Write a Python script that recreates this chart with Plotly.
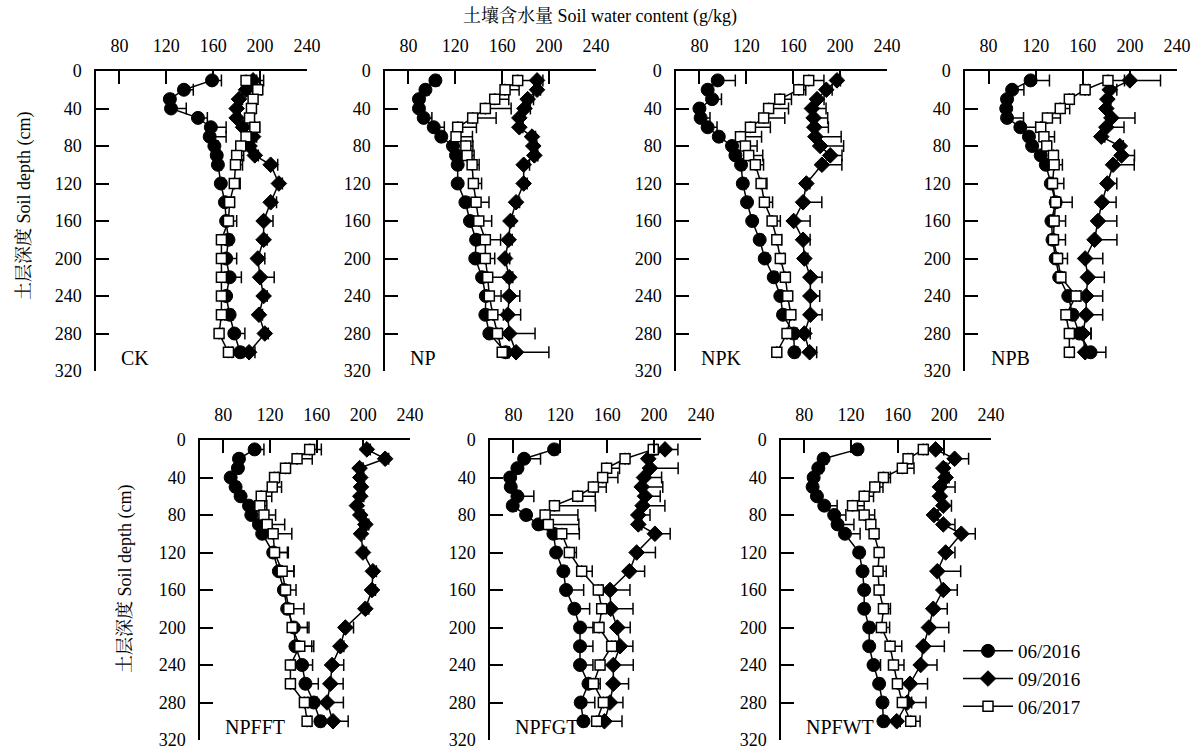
import plotly.graph_objects as go

DEPTH = [10, 20, 30, 40, 50, 60, 70, 80, 90, 100, 120, 140, 160, 180, 200, 220, 240, 260, 280, 300]
PANELS = ["CK", "NP", "NPK", "NPB", "NPFFT", "NPFGT", "NPFWT"]
SERIES = ["06/2016", "09/2016", "06/2017"]
XTICKS = [80, 120, 160, 200, 240]
YTICKS = [0, 40, 80, 120, 160, 200, 240, 280, 320]

# 06/2016
CK_0616 = [159, 135, 123, 124, 147, 158, 157, 161, 163, 164, 166.5, 170, 171, 173, 171, 174, 171, 174, 178, 183]
CK_0616_err = [8, 8, 3, 13, 8, 13, 14, 3, 3, 3, 3, 8, 9, 3, 9, 10, 3, 3, 9, 3]
CK_0916 = [194, 188, 182, 180, 180, 185.5, 194, 191, 195.5, 209, 216, 209, 203, 203, 198, 200, 203, 199, 204, 190.6]
CK_0916_err = [3, 3, 3, 3, 3, 3, 3, 3, 3, 6, 3, 5, 8, 3, 6, 12, 3, 3, 3, 5]
CK_0617 = [188, 198, 194, 192.6, 191, 195.5, 188, 183.5, 180, 179, 178, 174, 173, 167, 167, 167, 167, 167, 165, 173]
CK_0617_err = [15, 3, 3, 3, 3, 4, 4, 8, 6, 6, 5, 3, 3, 3, 3, 3, 3, 3, 3, 3]

NP_0616 = [103, 94.5, 89, 89, 93, 101.6, 108, 118, 120.6, 122, 122, 128.6, 132.5, 137.7, 137, 142.8, 146, 145.6, 149, 163]
NP_0616_err = [3, 3, 3, 3, 7, 9, 3, 3, 3, 3, 3, 3, 3, 3, 3, 3, 3, 3, 3, 3]
NP_0916 = [189.7, 189.7, 181.7, 179, 174.6, 174.6, 185.4, 186.5, 187.4, 178.3, 178.3, 171.8, 167, 165.5, 162.4, 166, 166, 164.7, 166, 171.8]
NP_0916_err = [5, 3, 5, 5, 3, 3, 3, 3, 3, 5, 3, 3, 3, 3, 4, 3, 9, 11, 22, 28]
NP_0617 = [173.2, 162.4, 153.6, 145.6, 134.8, 122, 120.6, 129, 130, 134.3, 135.4, 137.7, 140, 145.6, 145.6, 147.6, 149, 152, 156, 160]
NP_0617_err = [16, 12, 12, 22, 20, 16, 14, 6, 6, 6, 7, 11, 11, 13, 8, 16, 10, 9, 3, 6]

NPK_0616 = [95.6, 87, 90.8, 80, 81, 87, 96.5, 107.8, 110.7, 115.5, 117, 120.6, 125, 131.4, 135.7, 143.4, 149, 151.3, 160.4, 161]
NPK_0616_err = [15, 3, 8, 3, 8, 8, 3, 3, 3, 3, 3, 3, 3, 3, 3, 3, 3, 3, 3, 3]
NPK_0916 = [197.3, 188.2, 180.3, 176, 177.4, 178, 178.9, 183, 191.6, 184.5, 171.2, 168.4, 160.4, 168.4, 169.5, 174.6, 174.6, 174.6, 169.5, 174]
NPK_0916_err = [3, 5, 6, 12, 12, 12, 22, 20, 10, 17, 3, 16, 14, 6, 3, 10, 8, 10, 5, 6]
NPK_0617 = [173.2, 164.7, 148.5, 139, 134.8, 123.5, 115, 119.2, 122, 127.7, 132.6, 135.4, 142, 146, 149, 153.3, 155.3, 158, 154.7, 146]
NPK_0617_err = [13, 6, 10, 17, 18, 17, 18, 10, 12, 7, 5, 7, 7, 4, 3, 3, 3, 3, 3, 3]

NPB_0616 = [115.7, 100, 95.7, 95, 95.7, 107, 114.3, 117, 124.3, 128.6, 132.9, 137, 133.4, 134.3, 137, 140, 147.7, 151.4, 157, 166.6]
NPB_0616_err = [16, 10, 3, 3, 14, 13, 3, 3, 3, 3, 11, 14, 12, 11, 10, 3, 3, 3, 10, 13]
NPB_0916 = [200, 182.9, 180.9, 180, 184.3, 180, 175.7, 191.4, 192.9, 185.7, 180.9, 176.3, 172.9, 170, 162, 164.3, 162.9, 162.9, 160, 162]
NPB_0916_err = [26, 6, 3, 3, 20, 15, 3, 3, 11, 18, 8, 12, 16, 19, 15, 14, 14, 14, 7, 5]
NPB_0617 = [181.4, 162, 148.6, 140.9, 130, 124.3, 127, 129.4, 135.1, 135.7, 134.3, 137, 135.7, 135.1, 138.6, 141.4, 154.3, 145.7, 148.6, 148.6]
NPB_0617_err = [14, 3, 3, 8, 11, 3, 9, 3, 3, 7, 3, 3, 3, 3, 3, 3, 3, 3, 3, 3]

NPFFT_0616 = [106.8, 93.4, 92.5, 86.3, 90.5, 94.8, 102, 104, 110.5, 113.3, 122.7, 127.6, 131.9, 134.7, 140.4, 141.8, 147.5, 150.4, 157.5, 163.2]
NPFFT_0616_err = [8, 3, 3, 3, 3, 3, 7, 3, 8, 3, 13, 13, 3, 3, 13, 14, 9, 11, 3, 3]
NPFFT_0916 = [203, 218.7, 196.8, 197.4, 198, 197.4, 194.5, 197.4, 201.7, 198, 199.7, 208.2, 207.4, 201.7, 184.6, 180.3, 173.2, 171.7, 168.9, 174]
NPFFT_0916_err = [3, 3, 3, 3, 3, 3, 3, 3, 3, 3, 3, 3, 3, 3, 7, 3, 10, 11, 14, 13]
NPFFT_0617 = [154, 143.2, 133.3, 123.9, 121.9, 112.5, 111.3, 114.8, 117.6, 122.7, 123.9, 130.4, 133.3, 136.1, 139, 145.5, 137.5, 137.5, 149.5, 151.8]
NPFFT_0617_err = [10, 13, 3, 3, 8, 9, 6, 10, 15, 16, 11, 10, 9, 13, 13, 12, 3, 3, 3, 3]

NPFGT_0616 = [114.7, 89.1, 83.4, 77.2, 77.7, 83.4, 79.4, 90.8, 101.3, 114.1, 116.4, 122.6, 124.9, 132, 136.8, 136.8, 136.8, 144, 137.4, 139.7]
NPFGT_0616_err = [3, 14, 3, 3, 3, 14, 3, 3, 3, 3, 3, 3, 15, 13, 11, 11, 11, 10, 12, 3]
NPFGT_0916 = [209.3, 195, 196.5, 191.4, 189.4, 192.2, 190.2, 186.5, 186.5, 200.7, 185.1, 178.9, 162.4, 163, 168.6, 170.9, 165.2, 165.2, 162.4, 157.6]
NPFGT_0916_err = [11, 3, 24, 15, 18, 13, 19, 10, 3, 13, 16, 13, 17, 19, 11, 11, 17, 13, 11, 15]
NPFGT_0617 = [199.3, 175.2, 159.5, 156.1, 148.2, 134.8, 115, 107, 109.8, 121.2, 127.7, 138.2, 152.4, 155.3, 153, 163.8, 153.9, 148.2, 156.7, 151]
NPFGT_0617_err = [3, 3, 11, 13, 11, 15, 35, 28, 26, 15, 6, 9, 3, 6, 3, 3, 3, 3, 3, 3]

NPFWT_0616 = [125.6, 96.5, 92, 88, 87.1, 90.8, 97.1, 105.6, 108.5, 114.8, 127, 129.9, 131.3, 131.3, 135.6, 135.6, 139.3, 144.1, 147, 147.8]
NPFWT_0616_err = [3, 3, 3, 3, 3, 3, 11, 10, 14, 13, 3, 3, 3, 3, 3, 3, 6, 3, 3, 3]
NPFWT_0916 = [192.5, 208.8, 199.1, 201.1, 196.2, 196.2, 199.1, 191.1, 199.1, 214.5, 201.1, 194, 199.1, 190.5, 186.8, 182, 179.7, 170.6, 168.3, 159.2]
NPFWT_0916_err = [7, 12, 3, 3, 13, 3, 7, 3, 10, 12, 8, 20, 12, 12, 17, 18, 14, 15, 16, 3]
NPFWT_0617 = [182, 168.9, 164, 147.8, 140.4, 131.3, 121.3, 131.3, 137, 139.8, 144.1, 143.2, 144.1, 147.8, 146.1, 153.5, 156.4, 159.8, 164, 171.2]
NPFWT_0617_err = [3, 3, 10, 6, 7, 8, 10, 9, 3, 3, 3, 7, 4, 6, 7, 10, 9, 3, 8, 8]

DATA = {
    "CK": [(CK_0616, CK_0616_err), (CK_0916, CK_0916_err), (CK_0617, CK_0617_err)],
    "NP": [(NP_0616, NP_0616_err), (NP_0916, NP_0916_err), (NP_0617, NP_0617_err)],
    "NPK": [(NPK_0616, NPK_0616_err), (NPK_0916, NPK_0916_err), (NPK_0617, NPK_0617_err)],
    "NPB": [(NPB_0616, NPB_0616_err), (NPB_0916, NPB_0916_err), (NPB_0617, NPB_0617_err)],
    "NPFFT": [(NPFFT_0616, NPFFT_0616_err), (NPFFT_0916, NPFFT_0916_err), (NPFFT_0617, NPFFT_0617_err)],
    "NPFGT": [(NPFGT_0616, NPFGT_0616_err), (NPFGT_0916, NPFGT_0916_err), (NPFGT_0617, NPFGT_0617_err)],
    "NPFWT": [(NPFWT_0616, NPFWT_0616_err), (NPFWT_0916, NPFWT_0916_err), (NPFWT_0617, NPFWT_0617_err)],
}

W, H = 1199, 753
FONT = "Liberation Serif, Times New Roman, Noto Serif CJK SC, Noto Sans CJK SC, serif"
# panel pixel boxes (left, right, top, bottom)
BOXES = [
    (96, 307, 71, 371), (385, 596, 71, 371), (676, 887, 71, 371), (965, 1177, 71, 371),
    (200, 410, 440, 740), (490, 701, 440, 740), (781, 991, 440, 740),
]

MARKERS = [
    dict(symbol="circle", size=13, color="black", line=dict(color="black", width=1)),
    dict(symbol="diamond", size=12, color="black", line=dict(color="black", width=1)),
    dict(symbol="square", size=10, color="white", line=dict(color="black", width=1.5)),
]

fig = go.Figure()
layout = dict(
    width=W, height=H, autosize=False,
    margin=dict(l=0, r=0, t=0, b=0, autoexpand=False),
    paper_bgcolor="white", plot_bgcolor="rgba(0,0,0,0)",
    font=dict(family=FONT, size=18, color="black"),
    showlegend=True,
    legend=dict(x=958 / W, y=1 - 632 / H, xanchor="left", yanchor="top",
                font=dict(size=19, family=FONT), itemwidth=50, tracegroupgap=0,
                bgcolor="rgba(0,0,0,0)"),
)
annotations = []
for i, name in enumerate(PANELS):
    k = "" if i == 0 else str(i + 1)
    l, r, t, b = BOXES[i]
    layout["xaxis" + k] = dict(
        domain=[l / W, r / W], range=[60, 240], side="top", anchor="y" + k,
        tickvals=XTICKS, ticks="inside", ticklen=13, tickwidth=1.5, tickcolor="black",
        showline=True, linewidth=1.5, linecolor="black", showgrid=False, zeroline=False,
        tickfont=dict(size=18, family=FONT), ticklabelstandoff=10, automargin=False,
    )
    layout["yaxis" + k] = dict(
        domain=[1 - b / H, 1 - t / H], range=[320, 0], anchor="x" + k,
        tickvals=YTICKS, ticks="inside", ticklen=13, tickwidth=1.5, tickcolor="black",
        showline=True, linewidth=1.5, linecolor="black", showgrid=False, zeroline=False,
        tickfont=dict(size=18, family=FONT), ticklabelstandoff=9, automargin=False,
    )
    for j, (vals, err) in enumerate(DATA[name]):
        fig.add_trace(go.Scatter(
            x=vals, y=DEPTH, xaxis="x" + k, yaxis="y" + k,
            mode="lines+markers", name=SERIES[j], showlegend=(i == 0),
            line=dict(color="black", width=1.5), marker=MARKERS[j],
            error_x=dict(type="data", symmetric=False, array=err,
                         arrayminus=[0] * len(err), color="black", thickness=1.5, width=6),
        ))
    annotations.append(dict(
        x=80, y=306, xref="x" + k, yref="y" + k, text=name, showarrow=False,
        xanchor="left", yanchor="middle", font=dict(size=20, family=FONT),
    ))

annotations.append(dict(
    x=600 / W, y=1 - 17 / H, xref="paper", yref="paper",
    text="土壤含水量 Soil water content (g/kg)", showarrow=False,
    xanchor="center", yanchor="middle", font=dict(size=18, family=FONT),
))
for yc, xc in [(206, 25), (579, 125)]:
    annotations.append(dict(
        x=xc / W, y=1 - yc / H, xref="paper", yref="paper",
        text="土层深度 Soil depth (cm)", showarrow=False, textangle=-90,
        xanchor="center", yanchor="middle", font=dict(size=18, family=FONT),
    ))
layout["annotations"] = annotations
fig.update_layout(**layout)
fig.write_html("out.html")
